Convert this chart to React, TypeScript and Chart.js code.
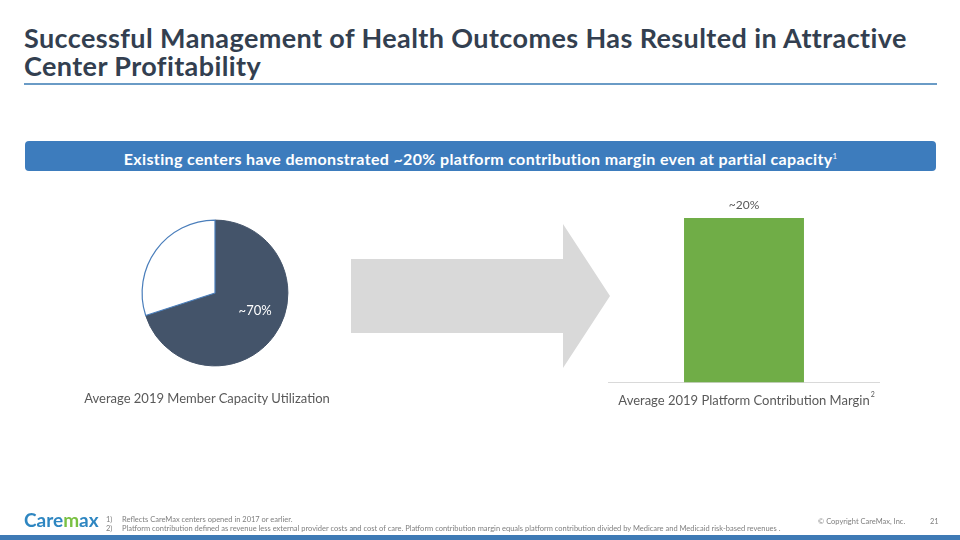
import React, { useEffect, useRef } from "react";
import { Chart, registerables } from "chart.js";

Chart.register(...registerables);

// ---- Data ----
const pieLabels = ["Utilized", "Unused"];
const pieValues = [70, 30];
const pieValueLabels = ["~70%", ""];

const barCategories = ["Average 2019 Platform Contribution Margin"];
const barValues = [20];
const barValueLabels = ["~20%"];
const barAxisMax = 26.7;

const pieCaption = "Average 2019 Member Capacity Utilization";
const titleText = "Successful Management of Health Outcomes Has Resulted in Attractive Center Profitability";
const bannerText = "Existing centers have demonstrated ~20% platform contribution margin even at partial capacity";
const footnotes = [
  "Reflects CareMax centers opened in 2017 or earlier.",
  "Platform contribution defined as revenue less external provider costs and cost of care. Platform contribution margin equals platform contribution divided by Medicare and Medicaid risk-based revenues .",
];

const FONT = "Lato, 'Open Sans', sans-serif";
const GRAY = "#595959";

const pieLabelPlugin = {
  id: "pieLabel",
  afterDatasetsDraw(chart: any) {
    const meta = chart.getDatasetMeta(0);
    const ctx = chart.ctx;
    ctx.save();
    ctx.font = `13px ${FONT}`;
    ctx.fillStyle = "#ffffff";
    ctx.textAlign = "center";
    ctx.textBaseline = "middle";
    meta.data.forEach((arc: any, i: number) => {
      const txt = pieValueLabels[i];
      if (!txt) return;
      const p = arc.getProps(["x", "y", "outerRadius"], true);
      const ang = (23.5 * Math.PI) / 180;
      const r = p.outerRadius * 0.6;
      ctx.fillText(txt, p.x + r * Math.cos(ang), p.y + r * Math.sin(ang));
    });
    ctx.restore();
  },
};

const barLabelPlugin = {
  id: "barLabel",
  afterDatasetsDraw(chart: any) {
    const meta = chart.getDatasetMeta(0);
    const ctx = chart.ctx;
    ctx.save();
    ctx.font = `12px ${FONT}`;
    ctx.fillStyle = GRAY;
    ctx.textAlign = "center";
    ctx.textBaseline = "middle";
    meta.data.forEach((bar: any, i: number) => {
      ctx.fillText(barValueLabels[i], bar.x, bar.y - 13);
    });
    const xScale = chart.scales.x;
    barCategories.forEach((c, i) => {
      ctx.font = `13px ${FONT}`;
      const w = ctx.measureText(c).width;
      const cx = xScale.getPixelForValue(i);
      ctx.font = `7px ${FONT}`;
      ctx.textAlign = "left";
      ctx.fillText("2", cx + w / 2 + 1, chart.chartArea.bottom + 12);
    });
    ctx.restore();
  },
};

function PieChart() {
  const ref = useRef<HTMLCanvasElement>(null);
  useEffect(() => {
    const chart = new Chart(ref.current!, {
      type: "pie",
      data: {
        labels: pieLabels,
        datasets: [
          {
            data: pieValues,
            backgroundColor: ["#44546a", "#ffffff"],
            borderColor: ["#44546a", "#4a7ebb"],
            borderWidth: [1, 1.2],
          },
        ],
      },
      options: {
        animation: false,
        responsive: false,
        rotation: 0,
        layout: { padding: 26.5 },
        plugins: { legend: { display: false }, tooltip: { enabled: false } },
      },
      plugins: [pieLabelPlugin],
    });
    return () => chart.destroy();
  }, []);
  return <canvas ref={ref} width={200} height={200} />;
}

function BarChart() {
  const ref = useRef<HTMLCanvasElement>(null);
  useEffect(() => {
    const chart = new Chart(ref.current!, {
      type: "bar",
      data: {
        labels: barCategories,
        datasets: [
          {
            data: barValues,
            backgroundColor: "#70ad47",
            categoryPercentage: 1,
            barPercentage: 0.441,
          },
        ],
      },
      options: {
        animation: false,
        responsive: false,
        layout: { padding: { top: 0, bottom: 1, left: 0, right: 0 } },
        plugins: { legend: { display: false }, tooltip: { enabled: false } },
        scales: {
          x: {
            grid: { display: false },
            border: { display: true, color: "#d9d9d9", width: 1 },
            ticks: { color: GRAY, font: { size: 13, family: FONT }, padding: 3, maxRotation: 0 },
          },
          y: { display: false, min: 0, max: barAxisMax },
        },
      },
      plugins: [barLabelPlugin],
    });
    return () => chart.destroy();
  }, []);
  return <canvas ref={ref} width={272} height={250} />;
}

export default function App() {
  return (
    <div
      style={{
        position: "fixed",
        left: 0,
        top: 0,
        width: 960,
        height: 540,
        background: "#fff",
        fontFamily: FONT,
        overflow: "hidden",
      }}
    >
      {/* Title */}
      <div
        style={{
          position: "absolute",
          left: 24,
          top: 24,
          width: 900,
          fontWeight: 700,
          fontSize: 27,
          lineHeight: "28px",
          color: "#333f50",
          letterSpacing: 0.4,
        }}
      >
        {titleText}
      </div>
      <div style={{ position: "absolute", left: 24, top: 83, width: 913, height: 2, background: "#6a9bc6" }} />

      {/* Banner */}
      <div
        style={{
          position: "absolute",
          left: 25,
          top: 141,
          width: 911,
          height: 30,
          background: "#3d7cbd",
          borderRadius: 4,
          color: "#fff",
          fontWeight: 700,
          fontSize: 16,
          letterSpacing: 0.35,
          lineHeight: "30px",
          textAlign: "center",
          whiteSpace: "nowrap",
        }}
      >
        {bannerText}
        <sup style={{ fontSize: 8, fontWeight: 400, letterSpacing: 0 }}>1</sup>
      </div>

      {/* Pie */}
      <div style={{ position: "absolute", left: 115, top: 193, width: 200, height: 200 }}>
        <PieChart />
      </div>
      <div
        style={{
          position: "absolute",
          left: 57,
          top: 390,
          width: 300,
          textAlign: "center",
          fontSize: 13,
          color: GRAY,
        }}
      >
        {pieCaption}
      </div>

      {/* Arrow */}
      <svg style={{ position: "absolute", left: 0, top: 0 }} width={960} height={540}>
        <polygon points="351,259 563,259 563,224 610,296 563,368 563,333 351,333" fill="#d9d9d9" />
      </svg>

      {/* Bar */}
      <div style={{ position: "absolute", left: 608, top: 163, width: 272, height: 250 }}>
        <BarChart />
      </div>

      {/* Footer */}
      <div
        style={{
          position: "absolute",
          left: 24,
          top: 508,
          fontSize: 19,
          fontWeight: 700,
          color: "#2e86c1",
          letterSpacing: 0,
        }}
      >
        Care<span style={{ color: "#7ac143" }}>m</span>ax
      </div>
      <div style={{ position: "absolute", left: 106, top: 515, fontSize: 7.5, color: "#7f7f7f", lineHeight: "9px" }}>
        <div>1)</div>
        <div>2)</div>
      </div>
      <div style={{ position: "absolute", left: 122, top: 515, fontSize: 7.5, color: "#7f7f7f", lineHeight: "9px", whiteSpace: "nowrap" }}>
        <div>{footnotes[0]}</div>
        <div>{footnotes[1]}</div>
      </div>
      <div style={{ position: "absolute", left: 818, top: 517, fontSize: 7.5, color: "#7f7f7f", whiteSpace: "nowrap" }}>
        © Copyright CareMax, Inc.
      </div>
      <div style={{ position: "absolute", left: 930, top: 517, fontSize: 7.5, color: "#7f7f7f" }}>21</div>
      <div style={{ position: "absolute", left: 0, top: 535, width: 960, height: 5, background: "#3e7ab5" }} />
    </div>
  );
}
